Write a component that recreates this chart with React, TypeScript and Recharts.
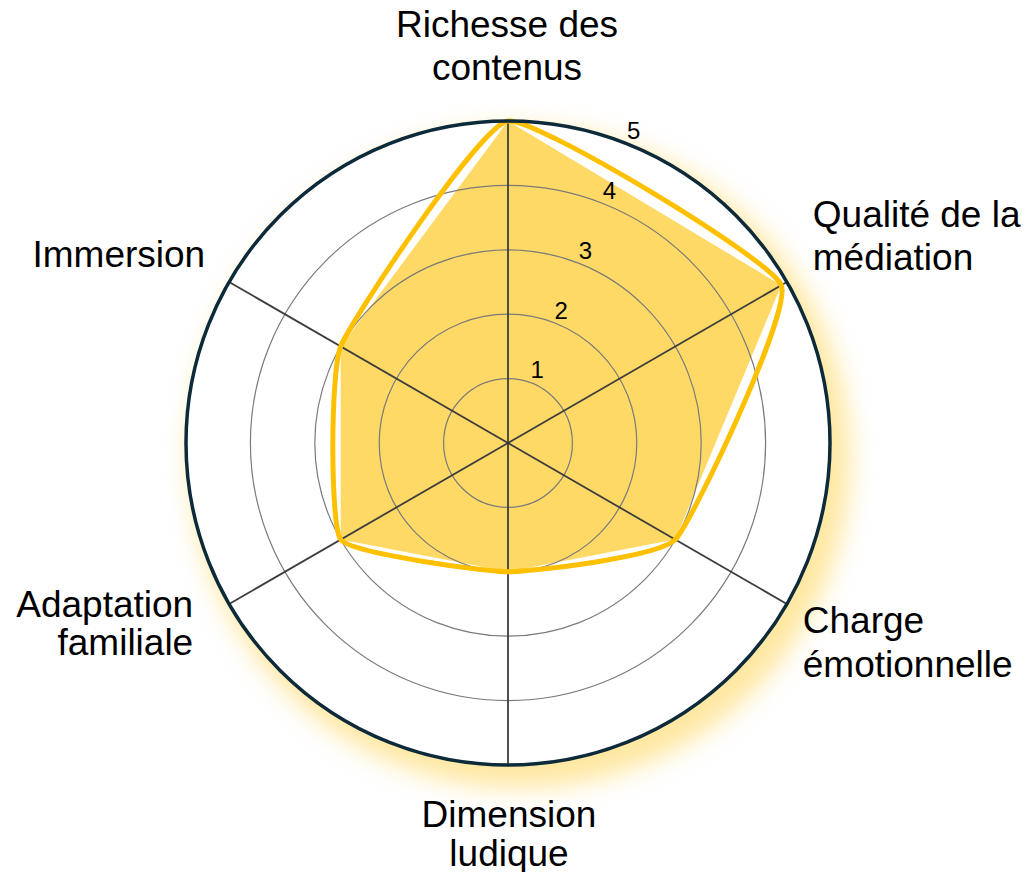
import React from 'react'
import { RadarChart, Radar, PolarGrid, PolarAngleAxis, PolarRadiusAxis } from 'recharts'

// axes, clockwise from the top ("\n" marks the line break of the label)
const categories = [
  'Richesse des\ncontenus',
  'Qualité de la\nmédiation',
  'Charge\némotionnelle',
  'Dimension\nludique',
  'Adaptation\nfamiliale',
  'Immersion',
]
const scores = [5, 4.9, 3, 2, 3, 3]
const scaleTicks = [0, 1, 2, 3, 4, 5]

const data = categories.map((name, i) => ({ name, score: scores[i] }))

// where each axis label sits relative to the point recharts gives the tick
const labelLayout = [
  { dx: -1, dy: -76, lh: 43 },
  { dx: 19, dy: -51, lh: 43 },
  { dx: 9, dy: 25, lh: 44 },
  { dx: 1, dy: 54, lh: 39 },
  { dx: -29, dy: 9, lh: 38 },
  { dx: -17, dy: -11, lh: 40 },
]

// the chart covers the whole window (body margin cancelled below)
const W = 1029
const H = 880
const CX = 508
const CY = 443
const R = 322
const FONT = '"Liberation Sans", Arial, sans-serif'

const AngleTick = (props: any) => {
  const { x, y, payload, index, textAnchor } = props
  const lay = labelLayout[index] || { dx: 0, dy: 0, lh: 40 }
  const lines = String(payload.value).split('\n')
  return (
    <text x={x + lay.dx} y={y + lay.dy} textAnchor={textAnchor} fontSize={37} fontFamily={FONT} fill="#000">
      {lines.map((l, i) => (
        <tspan key={i} x={x + lay.dx} dy={i === 0 ? 0 : lay.lh}>
          {l}
        </tspan>
      ))}
    </text>
  )
}

const RadiusTick = (props: any) => {
  const { x, y, payload } = props
  if (payload.value === 0) return null
  return (
    <text x={x + 5} y={y - 5} textAnchor="middle" fontSize={24} fontFamily={FONT} fill="#000">
      {payload.value}
    </text>
  )
}

// closed cardinal spline through the radar points
const SmoothOutline = (props: any) => {
  const pts: { x: number; y: number }[] = props.points || []
  const n = pts.length
  if (!n) return null
  const k = 1 / 16
  let d = `M${pts[0].x},${pts[0].y}`
  for (let i = 0; i < n; i++) {
    const p0 = pts[(i - 1 + n) % n]
    const p1 = pts[i]
    const p2 = pts[(i + 1) % n]
    const p3 = pts[(i + 2) % n]
    const c1x = p1.x + (p2.x - p0.x) * k
    const c1y = p1.y + (p2.y - p0.y) * k
    const c2x = p2.x - (p3.x - p1.x) * k
    const c2y = p2.y - (p3.y - p1.y) * k
    d += `C${c1x},${c1y} ${c2x},${c2y} ${p2.x},${p2.y}`
  }
  return <path d={d + 'Z'} fill="none" stroke="#FFC000" strokeWidth={5} strokeLinejoin="round" />
}

const layer: React.CSSProperties = { position: 'absolute', left: 0, top: 0 }

export default function App() {
  return (
    <div style={{ position: 'relative', width: W, height: H, margin: -8, overflow: 'hidden' }}>
      <div
        style={{
          position: 'absolute',
          left: CX - R,
          top: CY - R,
          width: R * 2,
          height: R * 2,
          borderRadius: '50%',
          background: '#fff',
          boxShadow: '12px 15px 24px 8px rgba(255, 210, 70, 0.5)',
        }}
      />
      {/* the fill sits under the grid, so it gets its own chart */}
      <div style={layer}>
        <RadarChart width={W} height={H} data={data} cx={CX} cy={CY} outerRadius={R} startAngle={90} endAngle={-270}>
          <PolarAngleAxis dataKey="name" axisLine={false} tickLine={false} tick={false} />
          <PolarRadiusAxis angle={68} domain={[0, 5]} ticks={scaleTicks as any} axisLine={false} tick={false} />
          <Radar dataKey="score" stroke="none" fill="#FFC000" fillOpacity={0.6} isAnimationActive={false} />
        </RadarChart>
      </div>
      <div style={layer}>
        <RadarChart width={W} height={H} data={data} cx={CX} cy={CY} outerRadius={R} startAngle={90} endAngle={-270}>
          <PolarGrid gridType="circle" radialLines={false} stroke="#7a7a7a" strokeWidth={1.2} />
          <PolarGrid gridType="circle" polarRadius={[]} stroke="#3d3d3d" strokeWidth={1.8} />
          <Radar dataKey="score" fill="none" stroke="#FFC000" shape={SmoothOutline} isAnimationActive={false} />
          <PolarAngleAxis
            dataKey="name"
            axisLineType="circle"
            axisLine={{ stroke: '#0d2a3a', strokeWidth: 3.5 }}
            tickLine={false}
            tick={AngleTick}
          />
          <PolarRadiusAxis
            angle={68}
            domain={[0, 5]}
            ticks={scaleTicks as any}
            tickCount={6}
            axisLine={false}
            tick={RadiusTick}
          />
        </RadarChart>
      </div>
    </div>
  )
}
